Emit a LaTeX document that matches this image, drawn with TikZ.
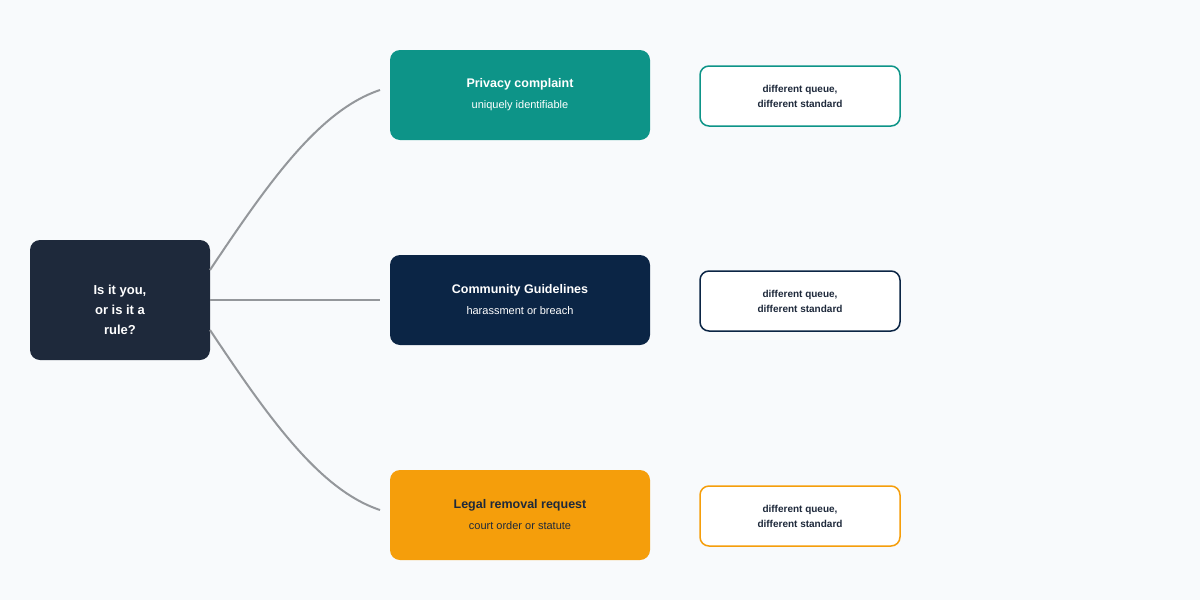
\documentclass[tikz,border=0pt]{standalone}
\usepackage{fontspec}
\setmainfont{Liberation Sans}
\definecolor{bg}{HTML}{F8FAFC}
\definecolor{rootc}{HTML}{1E293B}
\definecolor{teal}{HTML}{0D9488}
\definecolor{navy}{HTML}{0B2545}
\definecolor{amber}{HTML}{F59E0B}
\definecolor{edge}{HTML}{94979B}
\definecolor{dark}{HTML}{1E293B}
\begin{document}
\begin{tikzpicture}[x=1pt,y=-1pt,
  box/.style={rounded corners=10pt,minimum width=260pt,minimum height=90pt,inner sep=0pt,align=center},
  side/.style={rounded corners=9pt,minimum width=200pt,minimum height=60pt,inner sep=0pt,align=center,fill=white,line width=1.5pt,font=\fontsize{10}{15}\selectfont\bfseries,text=dark},
  conn/.style={draw=edge,line width=2pt}]
\fill[bg] (0,0) rectangle (1200,600);
\useasboundingbox (0,0) rectangle (1200,600);
\node[rounded corners=10pt,minimum width=180pt,minimum height=120pt,fill=rootc] (root) at (120,300) {};
\node[text=white,align=center,font=\fontsize{13}{20}\selectfont\bfseries] (rt) at (120,310) {Is it you,\\or is it a\\rule?};
\node[box,fill=teal,text=white] (p) at (520,95) {{\fontsize{12.5}{15}\selectfont\bfseries Privacy complaint}\\[9pt]{\fontsize{11}{13}\selectfont uniquely identifiable}};
\node[box,fill=navy,text=white] (c) at (520,300) {{\fontsize{12.5}{15}\selectfont\bfseries Community Guidelines}\\[9pt]{\fontsize{11}{13}\selectfont harassment or breach}};
\node[box,fill=amber,text=dark] (l) at (520,515) {{\fontsize{12.5}{15}\selectfont\bfseries Legal removal request}\\[9pt]{\fontsize{11}{13}\selectfont court order or statute}};
\node[side,draw=teal] (p2) at (800,96) {different queue,\\different standard};
\node[side,draw=navy] (c2) at (800,301) {different queue,\\different standard};
\node[side,draw=amber] (l2) at (800,516) {different queue,\\different standard};
\coordinate (a1) at (210,270); \coordinate (b1) at (380,90);
\coordinate (a2) at (210,300); \coordinate (b2) at (380,300);
\coordinate (a3) at (210,330); \coordinate (b3) at (380,510);
\draw[conn] (a1) .. controls (270,180) and (320,110) .. (b1);
\draw[conn] (a2) -- (b2);
\draw[conn] (a3) .. controls (270,420) and (320,490) .. (b3);
\end{tikzpicture}
\end{document}
